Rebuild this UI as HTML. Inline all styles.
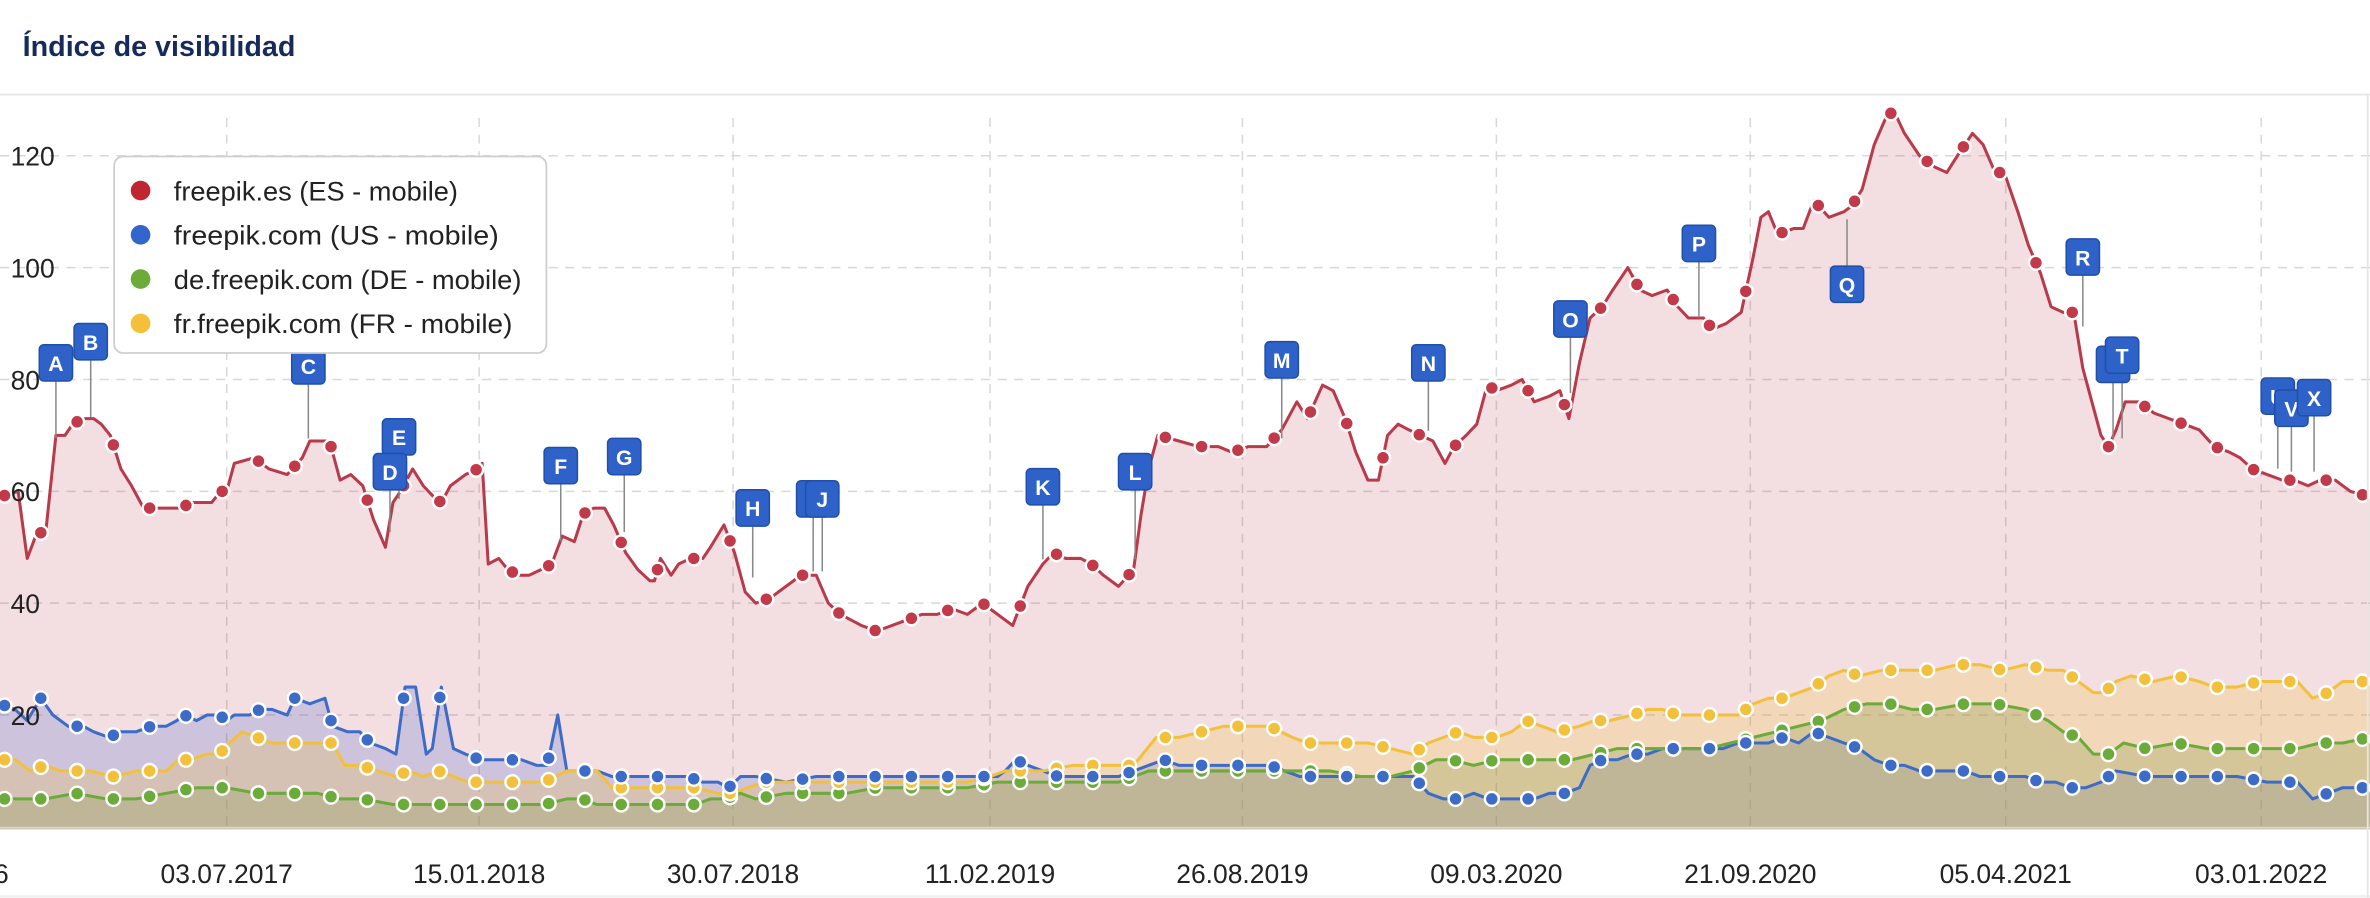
<!DOCTYPE html>
<html><head><meta charset="utf-8"><style>
html,body{margin:0;padding:0;background:#fff;width:2370px;height:898px;overflow:hidden}
svg{display:block}
text{font-family:"Liberation Sans",sans-serif}
</style></head><body>
<svg id="s" width="2370" height="898" viewBox="0 0 1568 594" xmlns="http://www.w3.org/2000/svg"></svg>
<script>
const S=document.getElementById('s');
const Y0=547,K=3.7;
const y=v=>Y0-v*K;
function P(a){const r=[];for(let i=0;i<a.length;i+=2)r.push([a[i],a[i+1]]);return r;}
const red=P([0,59,12,60,18,48,25,53,30,52,37,70,43,70,48,72,55,73,62,73,67,72,73,70,80,64,87,61,95,57,108,57,120,57,126,58,133,58,140,58,146,60,150,60,155,65,168,66,178,64,190,63,200,66,205,69,212,69,218,69,225,62,232,63,240,61,247,55,255,50,260,58,265,60,273,64,280,61,287,59,292,58,298,61,308,63,316,64,319,65,323,47,330,48,336,46,343,45,350,45,358,46,365,47,372,52,380,51,386,56,393,57,400,57,406,54,414,49,422,46,430,44,433,44,437,48,444,45,449,47,457,48,465,48,470,50,479,54,486,49,493,42,500,40,510,41,520,43,530,45,540,45,548,40,556,38,563,37,570,36,580,35,590,36,600,37,610,38,620,38,630,39,640,38,650,40,660,38,670,36,680,43,690,47,697,49,705,48,715,48,722,47,730,45,740,43,750,46,755,56,760,64,766,70,780,69,793,68,806,68,815,67,826,68,838,68,848,71,858,76,865,73,875,79,882,78,890,73,897,67,905,62,912,62,918,70,925,72,932,71,940,70,948,69,956,65,962,68,970,70,977,72,984,79,990,78,1000,79,1007,80,1015,76,1025,77,1032,78,1038,73,1045,83,1052,91,1060,93,1067,96,1077,100,1085,96,1093,95,1103,96,1110,93,1117,91,1127,91,1133,89,1142,90,1152,92,1160,102,1165,109,1170,110,1176,106,1187,107,1193,107,1200,112,1210,109,1220,110,1225,111,1232,114,1240,122,1248,127,1253,128,1260,124,1270,120,1280,118,1288,117,1295,120,1305,124,1312,122,1320,117,1326,117,1335,110,1342,104,1350,99,1357,93,1365,92,1372,92,1378,82,1385,75,1390,70,1395,68,1400,71,1406,76,1415,76,1425,74,1435,73,1445,72,1455,71,1465,68,1475,67,1482,66,1490,64,1500,63,1510,62,1518,62,1527,61,1535,62,1545,62,1555,60,1568,59]);
const blue=P([0,22,10,21,18,19,27,23,35,20,45,18,55,18,62,17,72,16,80,17,90,17,100,18,110,18,117,19,122,20,130,19,137,20,145,20,150,19,155,20,165,20,172,21,180,21,190,20,195,23,205,22,215,23,220,18,230,17,238,17,245,15,255,14,262,13,268,25,275,25,282,13,286,14,292,25,300,14,308,13,318,12,328,12,338,12,345,12,355,11,362,11,369,20,375,10,385,10,395,10,405,9,415,9,425,9,440,9,455,9,465,8,475,8,482,7,490,9,500,9,520,8,540,9,560,9,580,9,600,9,620,9,640,9,660,9,665,10,672,12,680,11,690,10,700,9,720,9,740,9,760,11,770,12,780,11,800,11,815,11,830,11,840,11,850,10,860,9,880,9,900,9,920,9,935,9,945,6,955,5,965,5,975,6,985,5,995,5,1005,5,1015,5,1025,6,1035,6,1045,7,1052,11,1060,12,1070,12,1080,13,1090,13,1100,14,1110,14,1120,14,1130,14,1140,14,1150,15,1160,15,1170,15,1180,16,1190,15,1200,17,1210,16,1220,15,1230,14,1240,12,1250,11,1260,11,1270,10,1280,10,1290,10,1300,10,1310,9,1320,9,1330,9,1340,9,1350,8,1360,8,1370,7,1380,7,1390,8,1400,10,1420,9,1440,9,1460,9,1480,9,1500,8,1510,8,1520,8,1530,5,1540,6,1550,7,1568,7]);
const yel=P([0,12,10,12,20,10,30,11,40,10,60,10,75,9,90,10,110,10,118,12,125,12,137,13,145,13,152,15,160,17,170,16,180,15,200,15,220,15,228,11,238,11,250,10,262,9,270,10,280,9,290,10,300,9,310,8,320,8,340,8,360,8,375,10,385,10,395,10,405,7,420,7,440,7,460,7,475,6,485,6,495,7,505,8,520,8,540,8,560,8,580,8,600,8,620,8,640,8,655,9,665,10,675,10,690,10,710,11,730,11,750,11,765,16,780,16,795,17,810,18,825,18,840,18,855,16,865,15,875,15,890,15,905,15,920,14,935,13,945,15,955,16,965,17,975,16,990,16,1000,17,1010,19,1020,18,1030,17,1045,18,1055,19,1065,19,1080,20,1090,21,1100,21,1110,20,1120,20,1135,20,1150,20,1160,22,1170,23,1180,23,1190,24,1200,25,1210,27,1220,28,1230,27,1245,28,1260,28,1270,28,1280,28,1295,29,1310,29,1325,28,1340,29,1355,28,1365,28,1375,26,1385,24,1392,24,1400,26,1410,27,1425,26,1440,27,1455,26,1465,25,1480,25,1495,26,1510,26,1520,26,1530,23,1540,24,1550,26,1568,26]);
const grn=P([0,5,30,5,50,6,70,5,90,5,110,6,130,7,150,7,170,6,190,6,210,6,225,5,240,5,260,4,280,4,300,4,320,4,340,4,360,4,375,5,385,5,395,4,420,4,440,4,460,4,470,5,480,5,490,6,500,5,520,6,540,6,560,6,580,7,600,7,620,7,640,7,660,8,680,8,700,8,720,8,740,8,760,10,780,10,800,10,820,10,840,10,860,10,880,10,900,9,920,9,935,10,950,12,960,12,975,11,990,12,1005,12,1020,12,1040,12,1055,13,1070,14,1085,14,1100,14,1115,14,1130,14,1145,15,1160,16,1175,17,1190,18,1205,19,1220,21,1235,22,1250,22,1265,21,1280,21,1300,22,1320,22,1340,21,1355,19,1365,17,1375,16,1385,13,1395,13,1405,15,1420,14,1440,15,1460,14,1480,14,1500,14,1520,14,1535,15,1550,15,1568,16]);
function interp(a,x){for(let i=1;i<a.length;i++){if(a[i][0]>=x){const p=a[i-1],q=a[i];const t=(x-p[0])/(q[0]-p[0]||1);return p[1]+t*(q[1]-p[1]);}}return a[a.length-1][1];}
let h='';
h+='<rect width="1568" height="594" fill="#fff"/>';
h+='<text x="15" y="37" font-size="19" font-weight="bold" fill="#162b5c">Índice de visibilidad</text>';
h+='<line x1="0" y1="62.5" x2="1568" y2="62.5" stroke="#e6e6e6" stroke-width="1.2"/>';
[120,100,80,60,40,20].forEach(v=>{h+=`<line x1="0" x2="1568" y1="${y(v)}" y2="${y(v)}" stroke="#d8d8d8" stroke-dasharray="6,5" stroke-width="1"/>`;});
const gx=[150,317,485,655,822,990,1158,1327,1496];
gx.forEach(x=>{h+=`<line x1="${x}" x2="${x}" y1="78" y2="${Y0}" stroke="#d8d8d8" stroke-dasharray="6,5" stroke-width="1"/>`;});
function area(a,fill){let d=`M${a[0][0]},${Y0}`;a.forEach(p=>d+=`L${p[0]},${y(p[1]).toFixed(1)}`);d+=`L${a[a.length-1][0]},${Y0}Z`;return `<path d="${d}" fill="${fill}"/>`;}
function line(a,c){let d='';a.forEach((p,i)=>d+=(i?'L':'M')+p[0]+','+y(p[1]).toFixed(1));return `<path d="${d}" fill="none" stroke="${c}" stroke-width="2" stroke-linejoin="round"/>`;}
function dots(a,c,off,step){let s='';for(let x=off;x<1568;x+=step){s+=`<circle cx="${x.toFixed(1)}" cy="${y(interp(a,x)).toFixed(1)}" r="4.6" fill="${c}" stroke="#fff" stroke-width="1.6"/>`;}return s;}
h+=area(red,'rgba(184,58,75,0.17)');
h+=area(blue,'rgba(61,90,200,0.2)');
h+=area(yel,'rgba(243,192,60,0.24)');
h+=area(grn,'rgba(106,140,40,0.22)');
h+=line(red,'#b83a4b');h+=line(blue,'#3d6cc8');h+=line(yel,'#f3c03c');h+=line(grn,'#6aab3a');
h+=dots(grn,'#6aab3a',3,24);h+=dots(yel,'#f3c03c',3,24);h+=dots(blue,'#3d6cc8',3,24);h+=dots(red,'#c23a4a',3,24);
h+='<line x1="0" x2="1568" y1="548" y2="548" stroke="#cfcabb" stroke-width="1.5"/>';
[120,100,80,60,40,20].forEach(v=>{h+=`<text x="7" y="${y(v)+6.5}" font-size="17.5" fill="#222">${v}</text>`;});
const lab=['03.07.2017','15.01.2018','30.07.2018','11.02.2019','26.08.2019','09.03.2020','21.09.2020','05.04.2021','03.01.2022'];
gx.forEach((x,i)=>{h+=`<text x="${x}" y="584" font-size="17.5" fill="#222" text-anchor="middle">${lab[i]}</text>`;});
h+='<text x="-4" y="584" font-size="17.5" fill="#222">6</text>';
h+='<line x1="0" x2="1568" y1="593" y2="593" stroke="#eee" stroke-width="1.5"/>';
h+='<line x1="1566.5" x2="1566.5" y1="62" y2="594" stroke="#e6e6e6" stroke-width="1.2"/>';
const F=[['A',37,228,290],['B',60,214,276],['C',204,230,290],['E',264,277,330],['D',258,300,352],['F',371,296,358],['G',413,290,352],['H',498,324,382],['I',538,318,378],['J',544,318,378],['K',690,310,370],['L',751,300,370],['M',848,226,290],['N',945,228,285],['O',1039,199,260],['P',1124,149,210],['R',1378,158,216],['S',1398,229,290],['T',1404,223,290],['U',1507,250,310],['V',1516,258,312],['X',1531,251,312]];
F.forEach(f=>{const [L,x,t,e]=f;h+=`<line x1="${x}" x2="${x}" y1="${t+24}" y2="${e}" stroke="#888" stroke-width="1"/>`;});
h+='<line x1="1222" x2="1222" y1="145" y2="178" stroke="#888" stroke-width="1"/>';
F.push(['Q',1222,176,0]);
F.forEach(f=>{const [L,x,t]=f;h+=`<rect x="${x-11}" y="${t}" width="22" height="24" rx="3" fill="#2f62c9" stroke="#1f4fa8" stroke-width="1"/><text x="${x}" y="${t+17.5}" font-size="14" font-weight="bold" fill="#fff" text-anchor="middle">${L}</text>`;});
h+='<rect x="75.5" y="103.5" width="286" height="130" rx="6" fill="#fff" stroke="#cfcfcf" stroke-width="1.2"/>';
const lg=[['#c0262f','freepik.es (ES - mobile)'],['#3366cc','freepik.com (US - mobile)'],['#6aab3a','de.freepik.com (DE - mobile)'],['#f3c03c','fr.freepik.com (FR - mobile)']];
lg.forEach((l,i)=>{const cy=126+i*29.3;h+=`<circle cx="93" cy="${cy}" r="6.5" fill="${l[0]}"/><text x="115" y="${cy+6.5}" font-size="17.5" fill="#222" textLength="${[188,215,230,224][i]}" lengthAdjust="spacingAndGlyphs">${l[1]}</text>`;});
S.innerHTML=h;
</script>
</body></html>
